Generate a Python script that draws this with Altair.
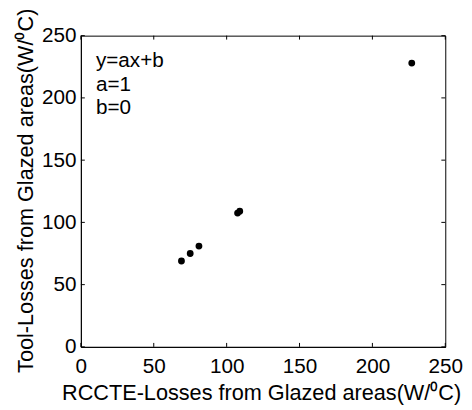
import altair as alt
import pandas as pd

x_vals = [69, 75, 81, 107.5, 109, 227]
y_vals = [69, 75, 81, 107.5, 109, 228]
tick_vals = [0, 50, 100, 150, 200, 250]
ann_text = "y=ax+b\na=1\nb=0"
ann_x = [10.3]
ann_y = [224.7]

pts = pd.DataFrame({"x": x_vals, "y": y_vals})
ticks = pd.DataFrame({"t": tick_vals})
ann = pd.DataFrame({"x": ann_x, "y": ann_y, "label": [ann_text]})

FONT = "Liberation Sans"
W, H = 370, 316
xs = alt.Scale(domain=[0, 250], nice=False)
ys = alt.Scale(domain=[0, 250], nice=False)

points = alt.Chart(pts).mark_point(filled=True, color="black", size=48, opacity=1).encode(
    x=alt.X("x:Q", scale=xs, axis=alt.Axis(
        values=tick_vals, ticks=False, tickSize=0, labelPadding=9, grid=False,
        title="RCCTE-Losses from Glazed areas(W/⁰C)",
        titleX=W / 2 - 2, titleY=53, titleBaseline="alphabetic", titleAlign="center")),
    y=alt.Y("y:Q", scale=ys, axis=alt.Axis(
        values=tick_vals, ticks=False, tickSize=0, labelPadding=5, grid=False,
        title="Tool-Losses from Glazed areas(W/⁰C)",
        titleX=-49, titleY=157, titleAngle=-90, titleBaseline="alphabetic",
        titleAlign="center")),
)

tl = 4
xb = alt.Chart(ticks).mark_rule(color="black").encode(
    x=alt.X("t:Q", scale=xs), y=alt.value(H), y2=alt.value(H - tl))
xt = alt.Chart(ticks).mark_rule(color="black").encode(
    x=alt.X("t:Q", scale=xs), y=alt.value(0), y2=alt.value(tl))
yl = alt.Chart(ticks).mark_rule(color="black").encode(
    y=alt.Y("t:Q", scale=ys), x=alt.value(0), x2=alt.value(tl))
yr = alt.Chart(ticks).mark_rule(color="black").encode(
    y=alt.Y("t:Q", scale=ys), x=alt.value(W), x2=alt.value(W - tl))

text = alt.Chart(ann).mark_text(
    align="left", baseline="alphabetic", lineBreak="\n", lineHeight=24,
    font=FONT, fontSize=21, color="black").encode(
    x=alt.X("x:Q", scale=xs), y=alt.Y("y:Q", scale=ys), text="label:N")

chart = alt.layer(xb, xt, yl, yr, points, text).properties(
    width=W, height=H,
    background="white",
    autosize=alt.AutoSizeParams(type="none"),
    padding={"left": 74, "top": 25, "right": 19, "bottom": 60},
).configure_view(stroke="black", strokeWidth=1).configure_axis(
    labelFont=FONT, titleFont=FONT, labelFontSize=21, titleFontSize=22,
    labelColor="black", titleColor="black", titleFontWeight="normal",
    domainColor="black", labelFlush=False, labelOverlap=False,
)

chart.save("out.html", embed_options={"renderer": "svg", "actions": False})
